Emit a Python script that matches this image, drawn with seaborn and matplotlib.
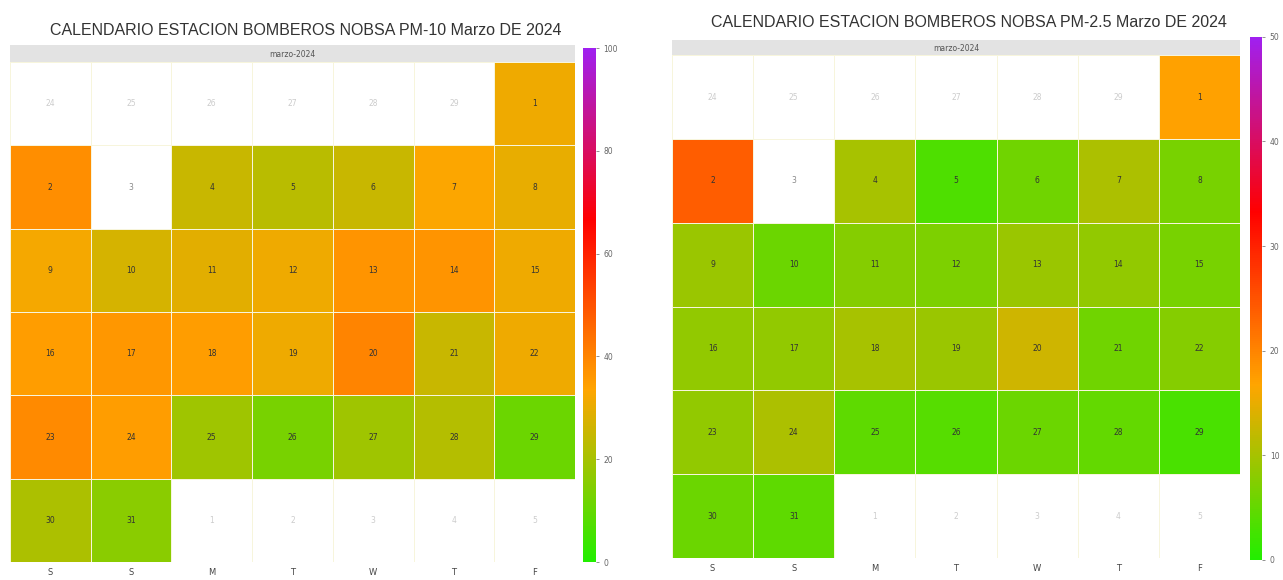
import matplotlib
matplotlib.use("Agg")
import matplotlib.pyplot as plt
from matplotlib.colors import LinearSegmentedColormap, ListedColormap
import seaborn as sns
import numpy as np
import pandas as pd

# daily means, 1-31 March 2024 (None = no data)
pm10 = [31, 38, None, 25, 23, 25, 33, 30, 32, 27, 29, 31, 37, 37, 31, 35, 36, 35, 31, 40,
        25, 31, 39, 35, 19, 13, 19, 22, 11, 21, 16]
pm25 = [17, 24, None, 10, 3.5, 6, 10.5, 6.5, 9, 5.5, 7.5, 7, 9, 8.5, 6.5, 8.5, 8.5, 10, 9, 13,
        6, 7.5, 8.5, 10.5, 4.5, 4, 5.5, 5, 3, 5.5, 4.5]
weekday_labels = ["S", "S", "M", "T", "W", "T", "F"]
titles = ["CALENDARIO ESTACION BOMBEROS NOBSA PM-10 Marzo DE 2024",
          "CALENDARIO ESTACION BOMBEROS NOBSA PM-2.5 Marzo DE 2024"]
strip_label = "marzo-2024"
scale_max = [100, 50]
scale_ticks = [[0, 20, 40, 60, 80, 100], [0, 10, 20, 30, 40, 50]]

cmap = LinearSegmentedColormap.from_list("cal", ["#22ee00", "#ffa500", "#ff0000", "#a020f0"])

# calendar grid, weeks start on Saturday
days = pd.date_range("2024-02-24", periods=42, freq="D")
in_month = (days.month == 3).reshape(6, 7)
day_num = days.day.values.reshape(6, 7)


def calendar(fig, rect, strip_rect, cbar_rect, title_y, values, title, vmax, ticks):
    grid = np.full(42, np.nan)
    grid[in_month.ravel()] = np.array(values, dtype=float)
    grid = grid.reshape(6, 7)

    ax = fig.add_axes(rect)
    cax = fig.add_axes(cbar_rect)
    bg = np.where(np.isnan(grid), 0.0, np.nan)
    sns.heatmap(bg, ax=ax, cmap=ListedColormap(["white"]), cbar=False,
                linewidths=0.5, linecolor="#eeeeee")
    sns.heatmap(grid, ax=ax, cmap=cmap, vmin=0, vmax=vmax, cbar_ax=cax,
                linewidths=0.6, linecolor="#f7f5dc")
    for r in range(6):
        for c in range(7):
            col = "#333333" if in_month[r, c] else "#cccccc"
            if in_month[r, c] and np.isnan(grid[r, c]):
                col = "#888888"
            ax.text(c + 0.5, r + 0.5, str(day_num[r, c]), ha="center", va="center",
                    fontsize=5.5, color=col)
    ax.set_xticks(np.arange(7) + 0.5)
    ax.set_xticklabels(weekday_labels, fontsize=6, color="#444444")
    ax.set_yticks([])
    ax.tick_params(axis="x", length=0, pad=4)
    ax.set_xlabel("")
    ax.set_ylabel("")

    cax.set_yticks(ticks)
    cax.set_yticklabels([str(t) for t in ticks], fontsize=5.5, color="#444444")
    cax.tick_params(length=2, width=0.5, colors="#666666")
    for s in cax.spines.values():
        s.set_visible(False)

    sax = fig.add_axes(strip_rect)
    sax.set_facecolor("#e3e3e3")
    sax.set_xticks([])
    sax.set_yticks([])
    for s in sax.spines.values():
        s.set_visible(False)
    sax.text(0.5, 0.45, strip_label, ha="center", va="center", fontsize=5.5,
             color="#555555", transform=sax.transAxes)

    x_mid = rect[0] + rect[2] / 2 + 0.01
    fig.text(x_mid, title_y, title, ha="center", va="center", fontsize=11.5,
             color="#333333", family="Liberation Sans")


sns.set_style("white")
fig = plt.figure(figsize=(12.83, 5.8), dpi=100)

calendar(fig, [0.0078, 0.031, 0.4404, 0.862], [0.0078, 0.893, 0.4404, 0.029],
         [0.4544, 0.031, 0.0101, 0.886], 0.948, pm10, titles[0], scale_max[0], scale_ticks[0])
calendar(fig, [0.5238, 0.038, 0.4427, 0.867], [0.5238, 0.905, 0.4427, 0.026],
         [0.9743, 0.0345, 0.0094, 0.902], 0.962, pm25, titles[1], scale_max[1], scale_ticks[1])

fig.savefig("out.png", dpi=100, facecolor="white")
